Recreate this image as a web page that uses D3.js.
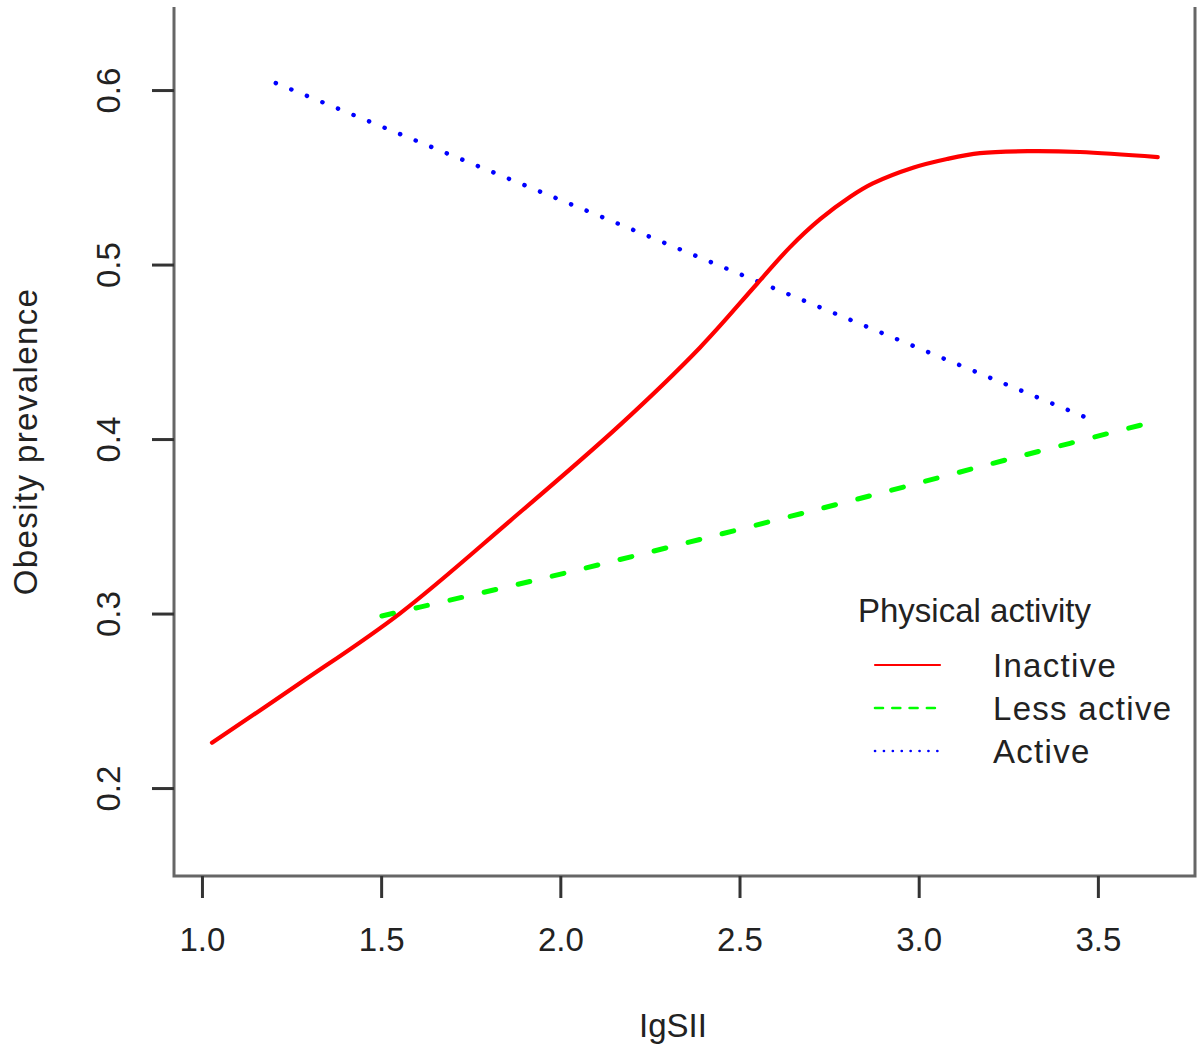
<!DOCTYPE html>
<html>
<head>
<meta charset="utf-8">
<script src="https://cdn.jsdelivr.net/npm/d3@7"></script>
<style>
  body { margin: 0; background: #fff; }
  text { font-family: "Liberation Sans", Arial, sans-serif; fill: #222; }
</style>
</head>
<body>
<div id="chart"></div>
<script>
// values
var xTicks = [1.0, 1.5, 2.0, 2.5, 3.0, 3.5];
var yTicks = [0.2, 0.3, 0.4, 0.5, 0.6];

var inactiveX = [1.028, 1.273, 1.552, 1.859, 2.166, 2.390, 2.549, 2.641, 2.725, 2.810, 2.872, 2.984, 3.079, 3.171, 3.310, 3.450, 3.667];
var inactiveY = [0.226, 0.260, 0.300, 0.353, 0.408, 0.4525, 0.489, 0.510, 0.526, 0.539, 0.5465, 0.5555, 0.5605, 0.5639, 0.565, 0.5645, 0.5616];

var lessX = [1.502, 1.608, 2.013, 2.786, 3.263, 3.667];
var lessY = [0.2986, 0.3037, 0.3232, 0.3633, 0.3891, 0.4105];

var activeX = [1.206, 2.124, 3.464];
var activeY = [0.604, 0.5266, 0.4126];

var legendLabels = ["Inactive", "Less active", "Active"];

var W = 1197, H = 1048;
var box = {left: 174, right: 1195, top: 7, bottom: 876};

var svg = d3.select("#chart").append("svg")
    .attr("width", W)
    .attr("height", H);

var x = d3.scaleLinear().domain([0.922, 3.771]).range([box.left, box.right]);
var y = d3.scaleLinear().domain([0.1496, 0.6476]).range([box.bottom, box.top]);

// frame (top edge is cut off in the picture)
svg.append("path")
    .attr("d", "M" + box.left + "," + box.top + "V" + box.bottom + "H" + box.right + "V" + box.top)
    .attr("fill", "none")
    .attr("stroke", "#666")
    .attr("stroke-width", 3);

// axes
var xAxis = svg.append("g")
    .attr("transform", "translate(0," + box.bottom + ")")
    .call(d3.axisBottom(x).tickValues(xTicks).tickFormat(d3.format(".1f"))
        .tickSize(22).tickPadding(30));
xAxis.select(".domain").remove();
xAxis.selectAll("line").attr("stroke", "#333").attr("stroke-width", 3);
xAxis.selectAll("text").style("font-size", "33px").attr("fill", "#222");

var yAxis = svg.append("g")
    .attr("transform", "translate(" + box.left + ",0)")
    .call(d3.axisLeft(y).tickValues(yTicks).tickFormat(d3.format(".1f")).tickSize(22));
yAxis.select(".domain").remove();
yAxis.selectAll("line").attr("stroke", "#333").attr("stroke-width", 3);
yAxis.selectAll("text")
    .style("font-size", "33px")
    .attr("fill", "#222")
    .attr("x", null).attr("dy", null)
    .attr("text-anchor", "middle")
    .attr("transform", "translate(-54,0) rotate(-90)");

// axis titles
svg.append("text")
    .attr("x", 673).attr("y", 1037)
    .attr("text-anchor", "middle")
    .style("font-size", "33px")
    .text("IgSII");

svg.append("text")
    .attr("transform", "translate(37," + ((box.top + box.bottom) / 2) + ") rotate(-90)")
    .attr("text-anchor", "middle")
    .style("font-size", "33px")
    .style("letter-spacing", "1.4px")
    .text("Obesity prevalence");

// lines
var line = d3.line()
    .x(function (d) { return x(d[0]); })
    .y(function (d) { return y(d[1]); })
    .curve(d3.curveCatmullRom.alpha(0.5));

function pairs(xs, ys) {
    return xs.map(function (v, i) { return [v, ys[i]]; });
}

svg.append("path")
    .datum(pairs(activeX, activeY))
    .attr("d", d3.line().x(function (d) { return x(d[0]); }).y(function (d) { return y(d[1]); }))
    .attr("fill", "none")
    .attr("stroke", "#0000ff")
    .attr("stroke-width", 4.5)
    .attr("stroke-linecap", "round")
    .attr("stroke-dasharray", "0.1,16.7");

svg.append("path")
    .datum(pairs(lessX, lessY))
    .attr("d", line)
    .attr("fill", "none")
    .attr("stroke", "#00ff00")
    .attr("stroke-width", 5)
    .attr("stroke-linecap", "round")
    .attr("stroke-dasharray", "12,23");

svg.append("path")
    .datum(pairs(inactiveX, inactiveY))
    .attr("d", line)
    .attr("fill", "none")
    .attr("stroke", "#ff0000")
    .attr("stroke-width", 4.2)
    .attr("stroke-linecap", "round");

// legend
var legend = svg.append("g").attr("transform", "translate(858,622)");
legend.append("text")
    .style("font-size", "33px")
    .text("Physical activity");

var styles = [
    {color: "#ff0000", dash: null, width: 2.2},
    {color: "#00ff00", dash: "8,9.3", width: 2.6},
    {color: "#0000ff", dash: "0.1,8.8", width: 2.6}
];

var item = legend.selectAll(".item")
    .data(legendLabels)
    .enter()
        .append("g")
        .attr("class", "item")
        .attr("transform", function (d, i) { return "translate(0," + (55 + i * 43) + ")"; });

item.append("line")
    .attr("x1", 17).attr("x2", 82)
    .attr("y1", -12).attr("y2", -12)
    .attr("stroke", function (d, i) { return styles[i].color; })
    .attr("stroke-width", function (d, i) { return styles[i].width; })
    .attr("stroke-linecap", "round")
    .attr("stroke-dasharray", function (d, i) { return styles[i].dash; });

item.append("text")
    .attr("x", 135)
    .style("font-size", "33px")
    .style("letter-spacing", "1.3px")
    .text(function (d) { return d; });
</script>
</body>
</html>
